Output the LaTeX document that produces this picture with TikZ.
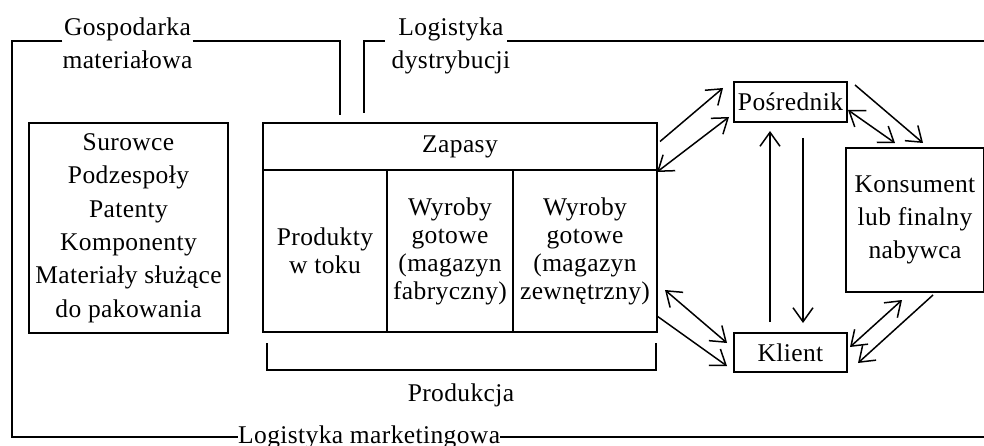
\documentclass[tikz,border=0pt]{standalone}
\usepackage{fontspec}
\setmainfont{Liberation Serif}[LetterSpace=1.5]
\usetikzlibrary{arrows.meta,calc,positioning}

\begin{document}
\begin{tikzpicture}[x=1pt,y=-1pt,
  every node/.style={font=\fontsize{25.5}{33.4}\selectfont,inner sep=0pt,align=center},
  block/.style={draw,line width=2.5pt,outer sep=0pt},
  col/.style={block,minimum height=162pt,font=\fontsize{25.5}{28}\selectfont},
  brk/.style={line width=2pt},
  arr/.style={line width=1.5pt,-{Straight Barb[length=14pt,width=20pt]}},
  darr/.style={line width=1.5pt,{Straight Barb[length=14pt,width=20pt]}-{Straight Barb[length=14pt,width=20pt]}}]

        \useasboundingbox (0,0) rectangle (984,446);

        % boxes
        \node[block,minimum width=199pt,minimum height=210pt] (sur) at (128.5,228)
          {Surowce\\Podzespoły\\Patenty\\Komponenty\\Materiały służące\\do pakowania};
        \node[block,minimum width=394pt,minimum height=47pt] (zap) at (460,146.5) {Zapasy};
        \node[col,minimum width=124pt,below right=0pt of zap.south west] (prod) {Produkty\\w toku};
        \node[col,minimum width=126pt,right=0pt of prod] (fab) {Wyroby\\gotowe\\(magazyn\\fabryczny)};
        \node[col,minimum width=144pt,right=0pt of fab] (zew) {Wyroby\\gotowe\\(magazyn\\zewnętrzny)};

        \node[block,minimum width=113pt,minimum height=40pt] (pos) at (790.5,102) {Pośrednik};
        \node[block,minimum width=113pt,minimum height=39pt] (kl) at (790.5,352.5) {Klient};
        \node[block,minimum width=138pt,minimum height=144pt] (kons) at (915,220)
          {Konsument\\lub finalny\\nabywca};

        % labels
        \node (gosp) at (127.5,43) {Gospodarka\\materiałowa};
        \node (dys) at (451,46) {Logistyka\\dystrybucji};
        \node[anchor=base] (prk) at (461,401) {Produkcja};
        \node[anchor=base west] (mark) at (238,443) {Logistyka marketingowa};

        \coordinate (ytop) at (0,41);
        \coordinate (ybot) at (0,437);

        % brackets
        \draw[brk] (gosp.west |- ytop) -- (12,41) -- (12,437) -- (mark.west |- ybot);
        \draw[brk] (mark.east |- ybot) -- (984,437);
        \draw[brk] (gosp.east |- ytop) -- (340,41) -- (340,115);
        \draw[brk] (364,113) -- (364,41) -- ($(dys.west |- ytop)+(-7,0)$);
        \draw[brk] ($(dys.east |- ytop)+(-3,0)$) -- (984,41);
        \draw[brk] ($(prod.south west)+(4,11)$) -- ++(0,27) -| ($(zew.south east)+(-1,11)$);

        % flows
        \draw[arr] ($(zap.east)+(3,-5)$) -- ($(pos.west)+(-11,-14)$);
        \draw[darr] ($(zap.south east)+(0,2)$) -- ($(pos.south west)+(-5,-5)$);
        \draw[arr] ($(pos.north east)+(8,3)$) -- ($(kons.north)+(8,-5)$);
        \draw[darr] ($(pos.east)+(1,8)$) -- ($(kons.north)+(-20,-5)$);
        \draw[arr] ($(kl.north)+(-20.5,-11)$) -- ($(pos.south)+(-20.5,9)$);
        \draw[arr] ($(pos.south)+(12.5,16)$) -- ($(kl.north)+(12.5,-10)$);
        \draw[darr] ($(zew.south east)+(8,-42)$) -- ($(kl.west)+(-7,-9.5)$);
        \draw[arr] ($(zew.south east)+(0,-16)$) -- ($(kl.west)+(-7,13.5)$);
        \draw[darr] ($(kl.east)+(3,-5.5)$) -- ($(kons.south)+(-13,8)$);
        \draw[arr] ($(kons.south)+(18,3)$) -- ($(kl.east)+(11,10.5)$);
      \end{tikzpicture}
\end{document}
